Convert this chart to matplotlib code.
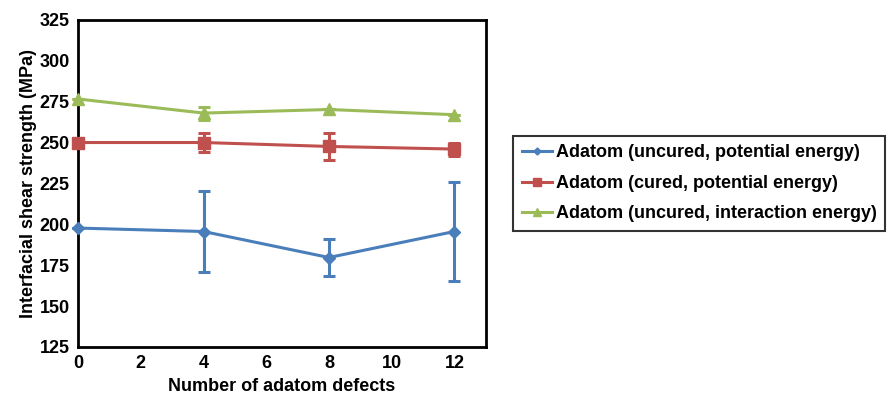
import numpy as np
import matplotlib
matplotlib.use("Agg")
import matplotlib.pyplot as plt
from matplotlib.lines import Line2D

plt.rcParams.update({'font.family': "Liberation Sans", 'font.weight': 'bold'})

defects = [0, 4, 8, 12]

uncured_pe = [197.7, 195.6, 179.7, 195.6]
uncured_pe_err = [0, 25, 11.6, 30]
cured_pe = [250.0, 250.0, 247.6, 246.0]
cured_pe_err = [0, 6, 8, 4]
uncured_ie = [276.6, 268.0, 270.2, 267.0]
uncured_ie_err = [0, 4, 0, 0]

labels = ["Adatom (uncured, potential energy)",
          "Adatom (cured, potential energy)",
          "Adatom (uncured, interaction energy)"]
colors = ["#4A7EBB", "#C0504D", "#9BBB59"]
markers = ["D", "s", "^"]
msizes = [6, 9, 9]

fig = plt.figure(figsize=(8.88, 3.97), dpi=100)
ax = fig.add_axes([0.088, 0.126, 0.459, 0.824])

series = [(uncured_pe, uncured_pe_err), (cured_pe, cured_pe_err), (uncured_ie, uncured_ie_err)]
handles = []
for (vals, err), lab, c, m, ms in zip(series, labels, colors, markers, msizes):
    ax.errorbar(defects, vals, yerr=err, color=c, marker=m, ms=ms, lw=2.2,
                elinewidth=2.2, capsize=4, capthick=2.2, clip_on=False, zorder=3)
    handles.append(Line2D([], [], color=c, marker=m, ms=ms * 0.6, lw=2.2, label=lab))

ax.set_xlim(0, 13)
ax.set_ylim(125, 325)
ax.set_xticks(range(0, 13, 2))
ax.set_yticks(range(125, 326, 25))
ax.tick_params(length=0, labelsize=13, pad=6)
for lab in ax.get_xticklabels() + ax.get_yticklabels():
    lab.set_fontweight('bold')
for s in ax.spines.values():
    s.set_linewidth(2)
ax.set_xlabel("Number of adatom defects", fontsize=13, fontweight='bold', labelpad=4)
ax.set_ylabel("Interfacial shear strength (MPa)", fontsize=13, fontweight='bold', labelpad=2)

leg = ax.legend(handles=handles, loc="center left", bbox_to_anchor=(1.068, 0.5), fontsize=13,
                frameon=True, fancybox=False, edgecolor="black", handlelength=1.7,
                handletextpad=0.2, borderpad=0.45, labelspacing=0.75, borderaxespad=0)
leg.get_frame().set_linewidth(1.5)

fig.savefig("out.png", dpi=100)
